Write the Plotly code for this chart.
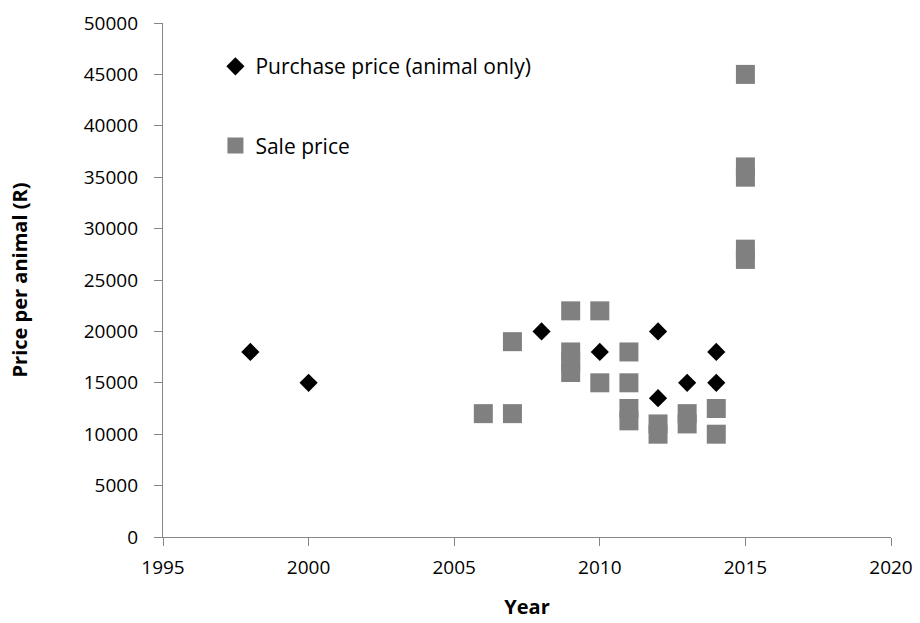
import plotly.graph_objects as go

# Purchase price (animal only), per year
purchase_year = [1998, 2000, 2008, 2010, 2012, 2012, 2013, 2014, 2014]
purchase_price = [18000, 15000, 20000, 18000, 20000, 13500, 15000, 15000, 18000]

# Sale price, per year
sale_year = [2006, 2007, 2007, 2009, 2009, 2009, 2009, 2010, 2010, 2011, 2011, 2011,
             2011, 2012, 2012, 2013, 2013, 2014, 2014, 2015, 2015, 2015, 2015, 2015]
sale_price = [12000, 12000, 19000, 22000, 18000, 17000, 16000, 22000, 15000, 18000, 15000, 12500,
              11300, 11000, 10000, 12000, 11000, 12500, 10000, 45000, 36000, 35000, 28000, 27000]

x_ticks = [1995, 2000, 2005, 2010, 2015, 2020]
y_ticks = [0, 5000, 10000, 15000, 20000, 25000, 30000, 35000, 40000, 45000, 50000]

FONT = "Open Sans"
AXIS_GREY = "#868686"

fig = go.Figure()
fig.add_trace(go.Scatter(
    x=purchase_year, y=purchase_price, mode="markers",
    name="Purchase price (animal only)", legendgroup="a",
    marker=dict(symbol="diamond", size=14, color="black"),
))
fig.add_trace(go.Scatter(
    x=sale_year, y=sale_price, mode="markers",
    name="Sale price", legendgroup="b",
    marker=dict(symbol="square", size=19, color="#808080"),
))

axis_common = dict(
    showgrid=False, zeroline=False, showline=True, linecolor=AXIS_GREY, linewidth=1.3,
    ticks="outside", ticklen=8, tickcolor=AXIS_GREY, tickwidth=1.3,
    tickfont=dict(family=FONT, size=19, color="black"),
    automargin=False,
)

fig.update_xaxes(
    range=[1995, 2020], tickvals=x_ticks, ticktext=[str(v) for v in x_ticks],
    ticklabelstandoff=5,
    title=dict(text="<b>Year</b>", font=dict(family=FONT, size=20, color="black"), standoff=21),
    **axis_common,
)
fig.update_yaxes(
    range=[0, 50000], tickvals=y_ticks, ticktext=[str(v) for v in y_ticks],
    ticklabelstandoff=12,
    title=dict(text="<b>Price per animal (R)</b>", font=dict(family=FONT, size=20, color="black"), standoff=50),
    **axis_common,
)

fig.update_layout(
    width=920, height=623,
    margin=dict(l=163, r=29, t=23, b=86),
    paper_bgcolor="white", plot_bgcolor="white",
    font=dict(family=FONT, size=19, color="black"),
    showlegend=True,
    legend=dict(
        x=0.072, y=0.955, xanchor="left", yanchor="top",
        bgcolor="rgba(0,0,0,0)", traceorder="grouped", tracegroupgap=49,
        font=dict(family=FONT, size=21, color="black"),
        itemwidth=30,
    ),
)

fig.write_html("out.html")
